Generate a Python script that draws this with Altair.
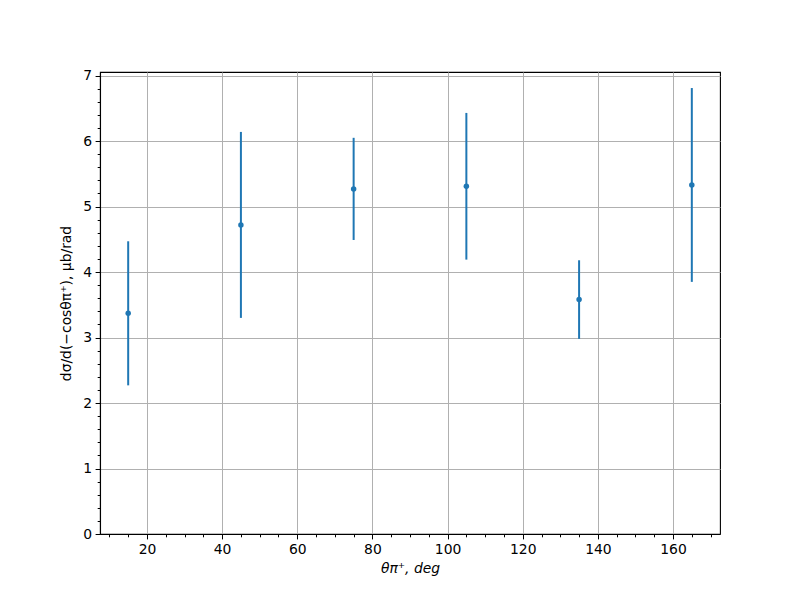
import altair as alt
import pandas as pd

theta = [15, 45, 75, 105, 135, 165]
xsec = [3.37, 4.72, 5.27, 5.31, 3.58, 5.33]
err = [1.10, 1.42, 0.78, 1.12, 0.60, 1.48]

df = pd.DataFrame({"x": theta, "y": xsec, "e": err})
df["lo"] = df["y"] - df["e"]
df["hi"] = df["y"] + df["e"]

xmajor = [20, 40, 60, 80, 100, 120, 140, 160]
xminor = list(range(10, 175, 5))
ymajor = [0, 1, 2, 3, 4, 5, 6, 7]
yminor = [round(i * 0.2, 1) for i in range(0, 36)]

xdom = [7.5, 172.5]
ydom = [0, 7.055]
color = "#1f77b4"
FONT = "DejaVu Sans"

xscale = alt.Scale(domain=xdom, nice=False, zero=False)
yscale = alt.Scale(domain=ydom, nice=False, zero=False)

base = alt.Chart(df)

rules = base.mark_rule(color=color, strokeWidth=2).encode(
    x=alt.X("x:Q", scale=xscale,
            axis=alt.Axis(values=xmajor, title="θπ⁺, deg", grid=True, orient="bottom",
                          titleFontStyle="italic", format="d")),
    y=alt.Y("lo:Q", scale=yscale,
            axis=alt.Axis(values=ymajor, title="dσ/d(−cosθπ⁺), μb/rad", grid=True, orient="left",
                          format="d")),
    y2="hi:Q",
)

points = base.mark_circle(color=color, size=30, opacity=1).encode(
    x=alt.X("x:Q", scale=xscale,
            axis=alt.Axis(values=xminor, labels=False, title=None, grid=False, tickSize=2.8,
                          orient="bottom", domain=False)),
    y=alt.Y("y:Q", scale=yscale,
            axis=alt.Axis(values=yminor, labels=False, title=None, grid=False, tickSize=2.8,
                          orient="left", domain=False)),
)

chart = alt.layer(rules, points).resolve_axis(x="independent", y="independent").properties(
    width=620, height=462,
    autosize=alt.AutoSizeParams(type="none"),
    padding={"left": 92, "top": 64, "right": 72, "bottom": 58},
).configure_view(stroke="black", strokeWidth=1.1).configure_axis(
    labelFont=FONT, titleFont=FONT, labelFontSize=13.9, titleFontSize=13.9,
    labelColor="black", titleColor="black", titleFontWeight="normal",
    domainColor="black", tickColor="black", tickSize=4.9, labelPadding=3.5,
    gridColor="#b0b0b0", gridWidth=1, domainWidth=1.1, tickWidth=1,
).configure_axisX(titlePadding=5).configure_axisY(titlePadding=9)

chart.save("out.html", embed_options={"renderer": "svg", "actions": False})
